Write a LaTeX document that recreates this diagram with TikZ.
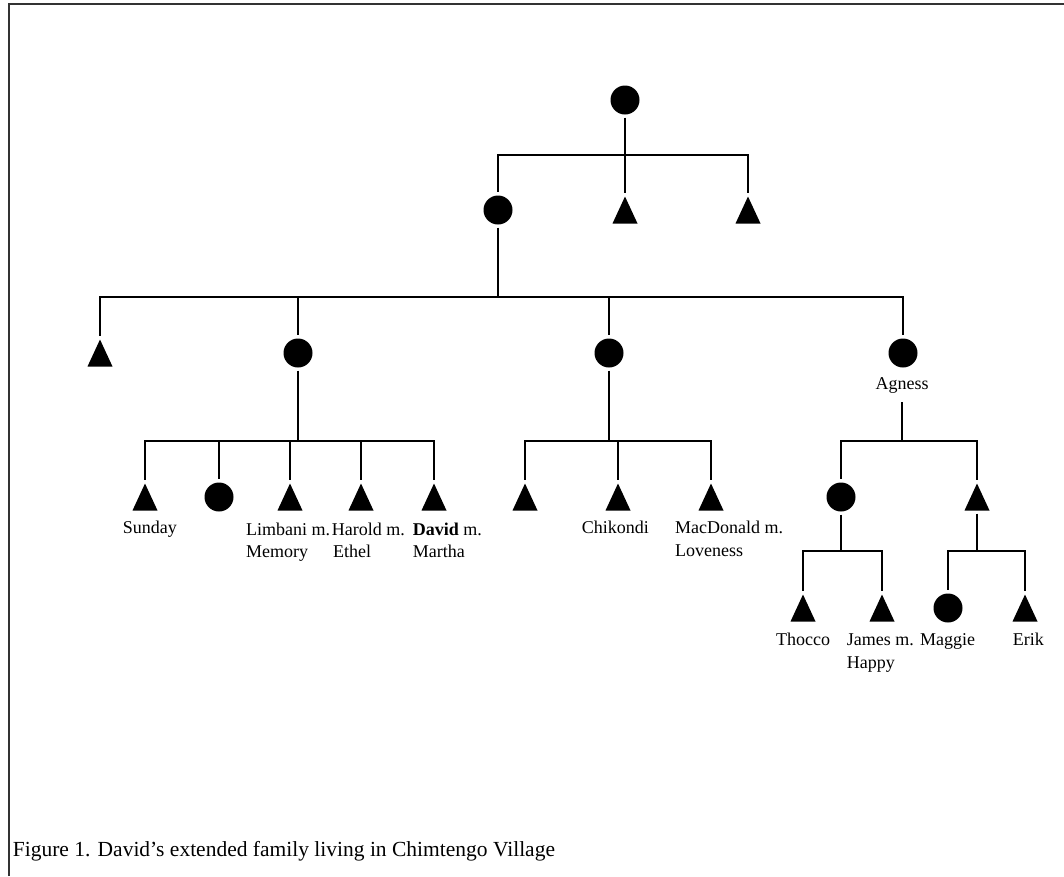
\documentclass[tikz,border=0pt]{standalone}
\usepackage{fontspec}
\setmainfont{Liberation Serif}
\begin{document}
\begin{tikzpicture}[x=1pt,y=-1pt,
  conn/.style={line width=2.8pt},
  fem/.style={circle,fill=black,minimum size=29pt,inner sep=0pt},
  mal/.style={minimum width=25pt,minimum height=27pt,inner sep=0pt,
    path picture={\fill[black] (path picture bounding box.south west) -- (path picture bounding box.south east) -- (path picture bounding box.north) -- cycle;}},
  lbl/.style={font=\fontsize{18}{22}\selectfont,inner sep=0pt,anchor=base west},
  frame/.style={line width=2pt,black!80}
]
\useasboundingbox (0,0) rectangle (1064,876);
\draw[frame] (8.5,876) -- (8.5,4) -- (1064,4);

% bars
\coordinate (b0) at (0,155);
\coordinate (b1) at (0,297);
\coordinate (b2) at (0,441);
\coordinate (b3) at (0,551);

% generation 0
\node[fem] (r0) at (625,100) {};
% generation 1
\node[fem] (c1) at (498,210) {};
\node[mal] (t1) at (625,210) {};
\node[mal] (t2) at (748,210) {};
% generation 2
\node[mal] (gA) at (100,353) {};
\node[fem] (gB) at (298,353) {};
\node[fem] (gC) at (609,353) {};
\node[fem] (gD) at (903,353) {};
\node[lbl,anchor=base] (agl) at (902,389) {Agness};
% generation 3 (B)
\node[mal] (s1) at (145,497) {};
\node[fem] (s2) at (219,497) {};
\node[mal] (s3) at (290,497) {};
\node[mal] (s4) at (361,497) {};
\node[mal] (s5) at (434,497) {};
% generation 3 (C)
\node[mal] (k1) at (525,497) {};
\node[mal] (k2) at (618,497) {};
\node[mal] (k3) at (711,497) {};
% generation 3 (D)
\node[fem] (a1) at (841,497) {};
\node[mal] (a2) at (977,497) {};
% generation 4
\node[mal] (e1) at (803,608) {};
\node[mal] (e2) at (882,608) {};
\node[fem] (f1) at (948,608) {};
\node[mal] (f2) at (1025,608) {};

% labels
\node[lbl] (lSun) at (122.7,533) {Sunday};
\node[lbl] (lLim1) at (246,535) {Limbani m.};
\node[lbl] (lLim2) at (246,557) {Memory};
\node[lbl] (lHar1) at (331.7,535) {Harold m.};
\node[lbl] (lHar2) at (333,557) {Ethel};
\node[lbl] (lDav1) at (412.7,535) {\textbf{David} m.};
\node[lbl] (lDav2) at (412.7,557) {Martha};
\node[lbl] (lChi) at (581.7,533) {Chikondi};
\node[lbl] (lMac1) at (675,533) {MacDonald m.};
\node[lbl] (lMac2) at (675,556) {Loveness};
\node[lbl] (lTho) at (776,645) {Thocco};
\node[lbl] (lJam1) at (846.7,645) {James m.};
\node[lbl] (lJam2) at (846.7,668) {Happy};
\node[lbl] (lMag) at (920,645) {Maggie};
\node[lbl] (lEri) at (1012.7,645) {Erik};

% caption
\node[lbl,font=\fontsize{21.5}{24}\selectfont] (cap) at (12.7,856) {Figure 1. David’s extended family living in Chimtengo Village};

% connectors
\draw[conn,shorten <=3pt] (r0.south) -- (r0 |- b0);
\foreach \c in {c1,t1,t2} \draw[conn,shorten >=3pt] (r0 |- b0) -| (\c.north);

\draw[conn,shorten <=3pt] (c1.south) -- (c1 |- b1);
\foreach \c in {gA,gB,gC,gD} \draw[conn,shorten >=3pt] (c1 |- b1) -| (\c.north);

\draw[conn,shorten <=3pt] (gB.south) -- (gB |- b2);
\foreach \c in {s1,s2,s3,s4,s5} \draw[conn,shorten >=3pt] (gB |- b2) -| (\c.north);

\draw[conn,shorten <=3pt] (gC.south) -- (gC |- b2);
\foreach \c in {k1,k2,k3} \draw[conn,shorten >=3pt] (gC |- b2) -| (\c.north);

\draw[conn,shorten <=9pt] (agl.south) -- (agl |- b2);
\foreach \c in {a1,a2} \draw[conn,shorten >=3pt] (agl |- b2) -| (\c.north);

\draw[conn,shorten <=3pt] (a1.south) -- (a1 |- b3);
\foreach \c in {e1,e2} \draw[conn,shorten >=3pt] (a1 |- b3) -| (\c.north);

\draw[conn,shorten <=3pt] (a2.south) -- (a2 |- b3);
\foreach \c in {f1,f2} \draw[conn,shorten >=3pt] (a2 |- b3) -| (\c.north);
\end{tikzpicture}
\end{document}
